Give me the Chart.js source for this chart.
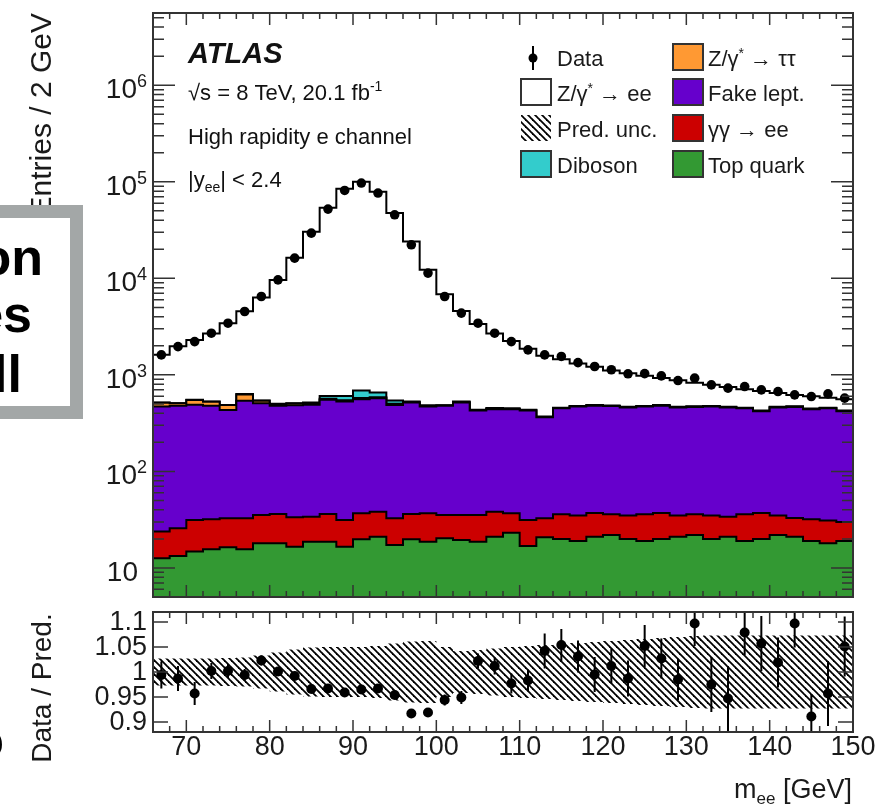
<!DOCTYPE html>
<html>
<head>
<meta charset="utf-8">
<title>ATLAS m_ee, high rapidity e channel</title>
<script src="https://cdn.jsdelivr.net/npm/chart.js@4.4.1/dist/chart.umd.min.js"></script>
<style>
  html, body { margin: 0; padding: 0; background: #fff; }
  body { width: 883px; height: 804px; position: relative; overflow: hidden; font-family: 'Liberation Sans', Arial, sans-serif; }
  #mainBox { position: absolute; left: 0; top: 0; width: 883px; height: 604px; }
  #ratioBox { position: absolute; left: 0; top: 604px; width: 883px; height: 200px; }
  .slide-box { position: absolute; left: -40px; top: 205px; width: 97px; height: 188px; border: 13px solid #a3a7a7; background: #fff; }
  .slide-text { position: absolute; width: 300px; text-align: right; font: bold 52px/52px 'Liberation Sans', Arial, sans-serif; color: #000; }
</style>
</head>
<body>
<div id="mainBox"><canvas id="main" width="883" height="604"></canvas></div>
<div id="ratioBox"><canvas id="ratio" width="883" height="200"></canvas></div>
<div class="slide-box"></div>
<div class="slide-text" style="left:-257px; top:231px;">on</div>
<div class="slide-text" style="left:-268px; top:288px;">es</div>
<div class="slide-text" style="left:-278px; top:348px;">ll</div>
<div class="slide-text" style="left:-296px; top:714px;">o</div>
<script>
const FONT = "'Liberation Sans', Arial, sans-serif";

// bin centres of m_ee [GeV], 2 GeV bins
const massBins = [67, 69, 71, 73, 75, 77, 79, 81, 83, 85, 87, 89, 91, 93, 95, 97, 99, 101, 103, 105, 107,
  109, 111, 113, 115, 117, 119, 121, 123, 125, 127, 129, 131, 133, 135, 137, 139, 141, 143, 145, 147, 149];

const dataEntries = [1610, 1960, 2210, 2700, 3430, 4530, 6480, 9640, 16180, 29380, 52100, 81280, 96980, 76400,
  45500, 22230, 11320, 6480, 4360, 3430, 2700, 2210, 1815, 1610, 1550, 1340, 1220, 1130, 1025, 1030, 977, 873,
  924, 788, 728, 757, 699, 672, 621, 596, 635, 574];

// stack, bottom to top
const topQuark = [12.6, 13.3, 14.8, 15.6, 16.4, 15.6, 18.0, 18.0, 16.6, 18.7, 18.7, 16.6, 19.8, 21.1, 17.3, 19.8,
  18.7, 20.3, 19.5, 18.7, 21.1, 23.2, 16.9, 20.8, 20, 19, 21, 22, 20, 19, 20, 21, 22, 20, 21, 19, 20, 22, 21, 19, 18, 19];
const gammaGamma = [11.2, 12.4, 16.6, 16.3, 16.3, 17.1, 17.4, 18.3, 16.9, 15.3, 17.6, 14.8, 17.1, 17.2, 15.4, 16.5,
  18.2, 15.1, 15.9, 16.7, 17.2, 13.7, 14.5, 11.9, 16, 16, 16, 14, 15, 17, 17, 14, 14, 15, 13, 17, 17, 13, 12, 13, 13, 11];
const fakeLept = [446, 452, 458, 446, 401, 505, 474, 442, 451, 455, 515, 499, 523, 535, 456, 480, 433, 443, 481, 392,
  403, 404, 396, 331, 414, 435, 443, 439, 425, 434, 443, 425, 429, 435, 426, 414, 383, 425, 432, 408, 419, 390];
const zTauTau = [44, 29, 60, 49, 53, 90, 30, 20, 20, 21, 14, 15, 17, 13, 13, 5, 5, 4, 4, 3, 3, 3, 3, 2,
  2, 2, 2, 2, 2, 2, 2, 2, 2, 2, 2, 2, 2, 2, 2, 2, 2, 2];
const diboson = [2, 2, 2, 2, 2, 7, 3, 3, 4, 6, 40, 60, 110, 70, 40, 8, 10, 3, 9, 4, 8, 8, 4, 4,
  5, 5, 5, 5, 5, 5, 5, 5, 5, 5, 5, 5, 5, 5, 5, 5, 5, 5];
const zee = [1100, 1470, 1750, 2160, 2930, 3920, 5790, 9120, 15790, 29840, 53110, 83970, 99500, 78110, 47000,
  23580, 11780, 6350, 4050, 2936, 2228, 1788, 1426, 1210, 993, 833, 723, 628, 573, 503, 443, 413, 358, 313, 283,
  253, 253, 183, 148, 153, 123, 133];

// lower panel
const ratio = [0.994, 0.987, 0.957, 1.002, 1.002, 0.994, 1.023, 1.001, 0.992, 0.966, 0.967, 0.959, 0.965, 0.967,
  0.954, 0.917, 0.919, 0.944, 0.949, 1.022, 1.012, 0.977, 0.983, 1.042, 1.054, 1.031, 0.995, 1.012, 0.987, 1.052,
  1.027, 0.985, 1.097, 0.975, 0.947, 1.079, 1.057, 1.019, 1.097, 0.911, 0.957, 1.051];
const ratioErr = [0.027, 0.025, 0.023, 0.016, 0.014, 0.012, 0.010, 0.009, 0.007, 0.005, 0.004, 0.003, 0.003, 0.003,
  0.004, 0.006, 0.008, 0.011, 0.013, 0.015, 0.017, 0.020, 0.022, 0.035, 0.032, 0.032, 0.035, 0.035, 0.036, 0.042,
  0.040, 0.042, 0.045, 0.055, 0.065, 0.045, 0.055, 0.050, 0.048, 0.045, 0.065, 0.060];
const predUnc = [0.027, 0.027, 0.027, 0.027, 0.028, 0.029, 0.033, 0.039, 0.045, 0.049, 0.050, 0.050, 0.050, 0.052,
  0.057, 0.061, 0.062, 0.050, 0.042, 0.044, 0.047, 0.050, 0.052, 0.054, 0.056, 0.058, 0.060, 0.062, 0.064, 0.066,
  0.068, 0.070, 0.072, 0.073, 0.073, 0.073, 0.073, 0.073, 0.073, 0.073, 0.073, 0.073];

const massTicks = [70, 80, 90, 100, 110, 120, 130, 140, 150];
const entryDecades = [1, 2, 3, 4, 5, 6];
const ratioTicks = ['0.9', '0.95', '1', '1.05', '1.1'];

const colors = {
  top: '#339933', gg: '#cc0000', fake: '#6600cc', tautau: '#ff9933', dib: '#33cccc', zee: '#ffffff'
};

// histogram outline: one flat segment per 2 GeV bin
function steps(vals) {
  const pts = [];
  vals.forEach((v, i) => {
    pts.push({x: massBins[i] - 1, y: v}, {x: massBins[i] + 1, y: v});
  });
  return pts;
}

function hatchPattern() {
  const s = 7;
  const c = document.createElement('canvas');
  c.width = s; c.height = s;
  const g = c.getContext('2d');
  g.strokeStyle = '#000';
  g.lineWidth = 1.8;
  for (let k = -1; k <= 1; k++) {
    g.beginPath();
    g.moveTo(-1, -1 + k * s);
    g.lineTo(s + 1, s + 1 + k * s);
    g.stroke();
  }
  return g.createPattern(c, 'repeat');
}
const hatch = hatchPattern();

// text made of pieces: [text, size, dy, weight/style]
function runs(ctx, x, y, parts, align) {
  let w = 0;
  parts.forEach(p => { ctx.font = (p[3] || '') + ' ' + p[1] + 'px ' + FONT; w += ctx.measureText(p[0]).width; });
  let cx = align === 'right' ? x - w : align === 'center' ? x - w / 2 : x;
  ctx.textAlign = 'left';
  ctx.textBaseline = 'alphabetic';
  parts.forEach(p => {
    ctx.font = (p[3] || '') + ' ' + p[1] + 'px ' + FONT;
    ctx.fillText(p[0], cx, y + (p[2] || 0));
    cx += ctx.measureText(p[0]).width;
  });
}

// cumulative stack
const layers = [topQuark, gammaGamma, fakeLept, zTauTau, diboson, zee];
const layerColors = [colors.top, colors.gg, colors.fake, colors.tautau, colors.dib, colors.zee];
let running = massBins.map(() => 0);
const stacked = layers.map(arr => (running = running.map((s, i) => s + arr[i])));

const mainDatasets = stacked.map((vals, k) => ({
  data: steps(vals),
  backgroundColor: layerColors[k],
  borderColor: '#000',
  borderWidth: 2,
  pointRadius: 0,
  tension: 0,
  fill: k === 0 ? 'start' : '-1',
  order: k + 1
}));
mainDatasets.push({
  data: massBins.map((m, i) => ({x: m, y: dataEntries[i]})),
  showLine: false,
  pointRadius: 4.8,
  pointBackgroundColor: '#000',
  pointBorderWidth: 0,
  fill: false,
  order: 0
});

function xTicks(ctx, x, a) {
  for (let m = 66; m <= 150; m += 2) {
    const px = x.getPixelForValue(m);
    const len = m % 10 === 0 ? 12 : 6;
    ctx.moveTo(px, a.bottom); ctx.lineTo(px, a.bottom - len);
    ctx.moveTo(px, a.top); ctx.lineTo(px, a.top + len);
  }
}

const mainDeco = {
  id: 'mainDeco',
  afterDraw(chart) {
    const {ctx, chartArea: a, scales: {x, y}} = chart;
    ctx.save();
    ctx.strokeStyle = '#333';
    ctx.lineWidth = 1.5;
    ctx.beginPath();
    xTicks(ctx, x, a);
    for (let e = 0; e <= 6; e++) {
      for (let k = 1; k <= 9; k++) {
        const v = k * Math.pow(10, e);
        if (v <= y.min || v >= y.max) continue;
        const py = y.getPixelForValue(v);
        const len = k === 1 ? 22 : 11;
        ctx.moveTo(a.left, py); ctx.lineTo(a.left + len, py);
        ctx.moveTo(a.right, py); ctx.lineTo(a.right - len, py);
      }
    }
    ctx.stroke();
    ctx.lineWidth = 2;
    ctx.strokeRect(a.left, a.top, a.right - a.left, a.bottom - a.top);

    ctx.fillStyle = '#1a1a1a';
    entryDecades.forEach(d => {
      const py = y.getPixelForValue(Math.pow(10, d));
      const parts = [['10', 28, 13]];
      if (d > 1) parts.push([String(d), 18, 2]);
      runs(ctx, d > 1 ? 147 : 138, py, parts, 'right');
    });

    // axis title
    ctx.save();
    ctx.translate(43, 13);
    ctx.rotate(-Math.PI / 2);
    ctx.font = '30px ' + FONT;
    ctx.textAlign = 'right';
    ctx.textBaseline = 'middle';
    ctx.fillText('Entries / 2 GeV', 0, 0);
    ctx.restore();

    // labels
    ctx.fillStyle = '#111';
    runs(ctx, 188, 63, [['ATLAS', 29, 0, 'italic bold']]);
    runs(ctx, 188, 100, [['\u221As = 8 TeV, 20.1 fb', 22], ['-1', 14, -9]]);
    runs(ctx, 188, 144, [['High rapidity e channel', 22]]);
    runs(ctx, 188, 187, [['|y', 22], ['ee', 14, 5], ['| < 2.4', 22]]);

    // legend
    const rows = [66, 101, 137, 173];
    const box = (bx, base, fill) => {
      ctx.fillStyle = fill;
      ctx.fillRect(bx, base - 22, 30, 26);
      if (fill !== hatch) {
        ctx.strokeStyle = '#333';
        ctx.lineWidth = 2;
        ctx.strokeRect(bx, base - 22, 30, 26);
      }
    };
    ctx.strokeStyle = '#000';
    ctx.lineWidth = 2;
    ctx.beginPath();
    ctx.moveTo(533, rows[0] - 20); ctx.lineTo(533, rows[0] + 4);
    ctx.stroke();
    ctx.fillStyle = '#000';
    ctx.beginPath();
    ctx.arc(533, rows[0] - 8, 4.5, 0, Math.PI * 2);
    ctx.fill();
    box(521, rows[1], '#fff');
    box(521, rows[2], hatch);
    box(521, rows[3], colors.dib);
    box(673, rows[0], colors.tautau);
    box(673, rows[1], colors.fake);
    box(673, rows[2], colors.gg);
    box(673, rows[3], colors.top);

    ctx.fillStyle = '#1a1a1a';
    runs(ctx, 557, rows[0], [['Data', 22]]);
    runs(ctx, 557, rows[1], [['Z/\u03B3', 22], ['*', 14, -8], [' \u2192 ee', 22]]);
    runs(ctx, 557, rows[2], [['Pred. unc.', 22]]);
    runs(ctx, 557, rows[3], [['Diboson', 22]]);
    runs(ctx, 708, rows[0], [['Z/\u03B3', 22], ['*', 14, -8], [' \u2192 \u03C4\u03C4', 22]]);
    runs(ctx, 708, rows[1], [['Fake lept.', 22]]);
    runs(ctx, 708, rows[2], [['\u03B3\u03B3 \u2192 ee', 22]]);
    runs(ctx, 708, rows[3], [['Top quark', 22]]);
    ctx.restore();
  }
};

new Chart(document.getElementById('main'), {
  type: 'line',
  data: {datasets: mainDatasets},
  options: {
    responsive: false,
    animation: false,
    layout: {padding: {left: 153, right: 30, top: 13, bottom: 7}},
    scales: {
      x: {type: 'linear', min: 66, max: 150, display: false},
      y: {type: 'logarithmic', min: 5, max: 5.6e6, display: false}
    },
    plugins: {legend: {display: false}, tooltip: {enabled: false}}
  },
  plugins: [mainDeco]
});

// ratio panel
const ratioDeco = {
  id: 'ratioDeco',
  afterDatasetsDraw(chart) {
    const {ctx, chartArea: a, scales: {x, y}} = chart;
    ctx.save();
    ctx.beginPath();
    ctx.rect(a.left, a.top, a.right - a.left, a.bottom - a.top);
    ctx.clip();
    ctx.strokeStyle = '#000';
    ctx.lineWidth = 2;
    ctx.beginPath();
    massBins.forEach((m, i) => {
      const px = x.getPixelForValue(m);
      ctx.moveTo(px, y.getPixelForValue(ratio[i] - ratioErr[i]));
      ctx.lineTo(px, y.getPixelForValue(ratio[i] + ratioErr[i]));
    });
    ctx.stroke();
    ctx.restore();
  },
  afterDraw(chart) {
    const {ctx, chartArea: a, scales: {x, y}} = chart;
    ctx.save();
    ctx.strokeStyle = '#333';
    ctx.lineWidth = 1.5;
    ctx.beginPath();
    xTicks(ctx, x, a);
    ratioTicks.forEach(t => {
      const py = y.getPixelForValue(parseFloat(t));
      ctx.moveTo(a.left, py); ctx.lineTo(a.left + 15, py);
      ctx.moveTo(a.right, py); ctx.lineTo(a.right - 15, py);
    });
    ctx.stroke();
    ctx.lineWidth = 2;
    ctx.strokeRect(a.left, a.top, a.right - a.left, a.bottom - a.top);

    ctx.fillStyle = '#1a1a1a';
    ctx.font = '27px ' + FONT;
    ctx.textAlign = 'right';
    ctx.textBaseline = 'middle';
    ratioTicks.forEach(t => {
      ctx.fillText(t, 147, y.getPixelForValue(parseFloat(t)) + 1);
    });
    ctx.textAlign = 'center';
    massTicks.forEach(m => {
      ctx.fillText(String(m), x.getPixelForValue(m), 144);
    });
    runs(ctx, 852, 194, [['m', 27], ['ee', 17, 6], [' [GeV]', 27]], 'right');

    ctx.save();
    ctx.translate(43, 84);
    ctx.rotate(-Math.PI / 2);
    ctx.font = '28px ' + FONT;
    ctx.textAlign = 'center';
    ctx.textBaseline = 'middle';
    ctx.fillText('Data / Pred.', 0, 0);
    ctx.restore();
    ctx.restore();
  }
};

new Chart(document.getElementById('ratio'), {
  type: 'line',
  data: {
    datasets: [
      {data: steps(predUnc.map(u => 1 + u)), fill: '+1', backgroundColor: hatch, borderWidth: 0, pointRadius: 0, tension: 0, order: 2},
      {data: steps(predUnc.map(u => 1 - u)), fill: false, borderWidth: 0, pointRadius: 0, tension: 0, order: 2},
      {
        data: massBins.map((m, i) => ({x: m, y: ratio[i]})),
        showLine: false, pointRadius: 5, pointBackgroundColor: '#000', pointBorderWidth: 0, fill: false, order: 0
      }
    ]
  },
  options: {
    responsive: false,
    animation: false,
    layout: {padding: {left: 153, right: 30, top: 8, bottom: 72}},
    scales: {
      x: {type: 'linear', min: 66, max: 150, display: false},
      y: {type: 'linear', min: 0.88, max: 1.12, display: false}
    },
    plugins: {legend: {display: false}, tooltip: {enabled: false}}
  },
  plugins: [ratioDeco]
});
</script>
</body>
</html>
